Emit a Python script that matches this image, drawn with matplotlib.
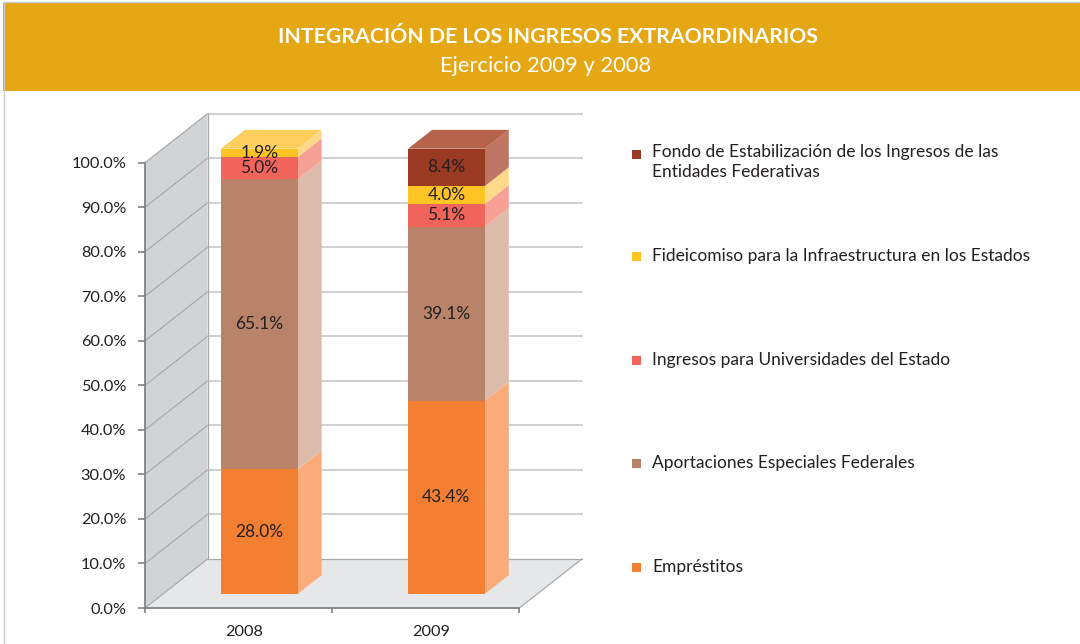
import numpy as np
import matplotlib.pyplot as plt
from matplotlib.patches import Polygon, Rectangle
from matplotlib import font_manager

# data
years = ['2008', '2009']
series_names = [
    'Empréstitos',
    'Aportaciones Especiales Federales',
    'Ingresos para Universidades del Estado',
    'Fideicomiso para la Infraestructura en los Estados',
    'Fondo de Estabilización de los Ingresos de las\nEntidades Federativas',
]
emprestitos = [28.0, 43.4]
aportaciones = [65.1, 39.1]
universidades = [5.0, 5.1]
fideicomiso = [1.9, 4.0]
fondo = [0.0, 8.4]
y_ticks = [0, 10, 20, 30, 40, 50, 60, 70, 80, 90, 100]

# colours: front, side, top
front_colors = ['#F37F32', '#B9836A', '#F0645C', '#FEC423', '#9B3A23']
side_colors = ['#F9AC79', '#DDBBAA', '#F6A096', '#FFD98A', '#BE7561']
top_colors = ['#FAB383', '#D2A592', '#F58A82', '#FECF5C', '#B5644B']

names = [f.name for f in font_manager.fontManager.ttflist]
fam = 'Lato' if 'Lato' in names else 'DejaVu Sans'
plt.rcParams['font.family'] = [fam, 'DejaVu Sans']
txt = '#231F20'

W, H = 1080, 644
fig = plt.figure(figsize=(W / 100, H / 100), dpi=100)

# pseudo 3d geometry (data units)
DX, DY = 0.334, 11.0
f0, f1 = 0.286, 0.67
bar_w = 0.41
xmax, ymax = 2.45, 112
px_x, px_y = 187.15, 4.453
ax = fig.add_axes([145 / W, 36 / H, xmax * px_x / W, ymax * px_y / H])
ax.set_xlim(0, xmax)
ax.set_ylim(0, ymax)

grid_c = '#C7C8CA'
edge_c = '#A7A9AC'

# walls
ax.add_patch(Polygon([(0, 0), (DX, DY), (DX, 100 + DY), (0, 100)],
                     closed=True, fc='#D1D3D4', ec='none', zorder=0.5))
ax.add_patch(Polygon([(0, 0), (2, 0), (2 + DX, DY), (DX, DY)],
                     closed=True, fc='#E6E7E8', ec='none', zorder=0.5))
for v in y_ticks:
    ax.plot([0, DX], [v, v + DY], color=edge_c, lw=0.9, zorder=1)
    if v > 0:
        ax.plot([DX, 2 + DX], [v + DY, v + DY], color=grid_c, lw=1.2, zorder=1)
ax.plot([DX, DX], [DY, 100 + DY], color=edge_c, lw=0.9, zorder=1)
ax.plot([DX, 2 + DX], [DY, DY], color=edge_c, lw=0.9, zorder=1)
ax.plot([2, 2 + DX], [0, DY], color=edge_c, lw=0.9, zorder=1)

# stacked 3d bars
stack = [emprestitos, aportaciones, universidades, fideicomiso, fondo]
cats = np.arange(len(years)) + 0.5
for i, c in enumerate(cats):
    c = c + 0.015
    x0 = c - bar_w / 2
    x1 = c + bar_w / 2
    bottom = 0.0
    vals = [s[i] for s in stack]
    top_idx = max(k for k, v in enumerate(vals) if v > 0)
    for k, v in enumerate(vals):
        if v <= 0:
            continue
        t = bottom + v
        ax.bar(x0 + f0 * DX, v, width=bar_w, bottom=bottom + f0 * DY,
               align='edge', color=front_colors[k], zorder=4)
        ax.add_patch(Polygon([(x1 + f0 * DX, bottom + f0 * DY),
                              (x1 + f1 * DX, bottom + f1 * DY),
                              (x1 + f1 * DX, t + f1 * DY),
                              (x1 + f0 * DX, t + f0 * DY)],
                             closed=True, fc=side_colors[k], ec='none', zorder=3))
        if k == top_idx:
            ax.add_patch(Polygon([(x0 + f0 * DX, t + f0 * DY),
                                  (x1 + f0 * DX, t + f0 * DY),
                                  (x1 + f1 * DX, t + f1 * DY),
                                  (x0 + f1 * DX, t + f1 * DY)],
                                 closed=True, fc=top_colors[k], ec='none', zorder=3))
        ax.text(c + f0 * DX, bottom + v / 2 + f0 * DY, f'{v:.1f}%',
                ha='center', va='center', fontsize=12.5, color=txt, zorder=5)
        bottom = t

# axes styling
for s in ['top', 'right']:
    ax.spines[s].set_visible(False)
ax.spines['left'].set_bounds(0, 100)
ax.spines['bottom'].set_bounds(0, 2)
for s in ['left', 'bottom']:
    ax.spines[s].set_color('#808285')
    ax.spines[s].set_linewidth(1.3)
ax.set_yticks(y_ticks)
ax.set_yticklabels([f'{v:.1f}%' for v in y_ticks])
ax.tick_params(axis='y', length=5, width=1.2, color='#808285', pad=8.5,
               labelsize=11.7, labelcolor=txt)
ax.set_xticks([0, 1, 2])
ax.set_xticklabels([])
ax.tick_params(axis='x', which='major', length=3.5, width=1.2, color='#808285')
ax.set_xticks(cats + 0.03, minor=True)
ax.set_xticklabels(years, minor=True)
ax.tick_params(axis='x', which='minor', length=0, pad=12,
               labelsize=11.7, labelcolor=txt)
ax.patch.set_visible(False)

# title banner
fig.patches.append(Rectangle((3 / W, 1 - 91 / H), 1, 88 / H, transform=fig.transFigure,
                             fc='#E5A713', ec='none', zorder=0))
fig.add_artist(plt.Line2D([4 / W, 4 / W], [0, 1 - 2 / H], color='#C9CACC', lw=1))
fig.add_artist(plt.Line2D([4 / W, 1], [1 - 2 / H, 1 - 2 / H], color='#C9CACC', lw=1))
fig.text(548 / W, 1 - 37 / H, 'INTEGRACIÓN DE LOS INGRESOS EXTRAORDINARIOS',
         ha='center', va='center', color='white', fontsize=15.3, fontweight='bold')
fig.text(546 / W, 1 - 66 / H, 'Ejercicio 2009 y 2008',
         ha='center', va='center', color='white', fontsize=15.8)

# legend
leg_y = [567, 463, 360, 256, 154]
for k, name in enumerate(series_names):
    y = leg_y[k]
    fig.patches.append(Rectangle((632 / W, 1 - (y + 4.5) / H), 9 / W, 9 / H,
                                 transform=fig.transFigure, fc=front_colors[k], ec='none'))
    if '\n' in name:
        fig.text(652 / W, 1 - (y - 10.5) / H, name, ha='left', va='top',
                 fontsize=12.5, color=txt, linespacing=1.35)
    else:
        fig.text(652 / W, 1 - y / H, name, ha='left', va='center',
                 fontsize=12.5, color=txt)

fig.savefig('out.png', dpi=100)
